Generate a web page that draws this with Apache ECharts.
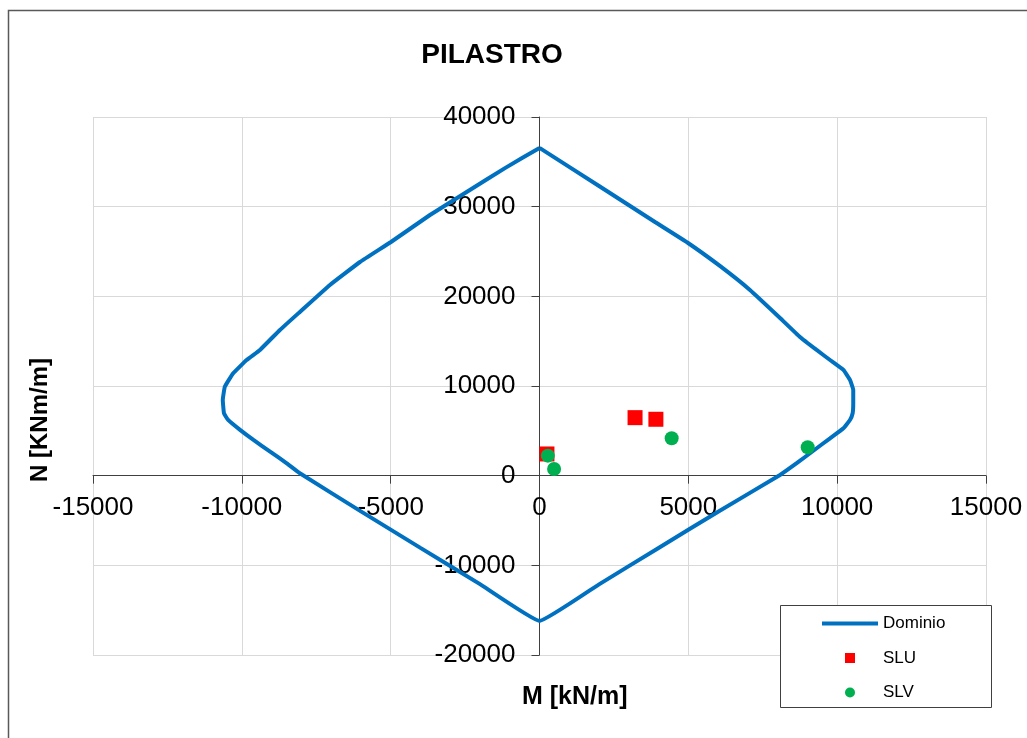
<!DOCTYPE html>
<html>
<head>
<meta charset="utf-8">
<script src="https://cdn.jsdelivr.net/npm/echarts@6/dist/echarts.min.js"></script>
<style>
html,body{margin:0;padding:0;background:#fff;}
#chart{width:1027px;height:738px;}
</style>
</head>
<body>
<div id="chart"></div>
<script>
// ---- data ----
const titleText = 'PILASTRO';
const xName = 'M [kN/m]';
const yName = 'N [KNm/m]';
const seriesNames = ['Dominio', 'SLU', 'SLV'];

// Interaction domain boundary (M, N)
const domainM = [0, 2000, 3880, 4990, 6060, 7070, 8080, 8750, 9310, 9760, 10210, 10430, 10540, 10540, 10520, 10430, 10210, 9760, 9200, 8640, 8080, 6000, 4000, 2000, 0,
  -2000, -4000, -6000, -8050, -8490, -9050, -9610, -10060, -10460, -10600, -10640, -10570, -10290, -9840, -9390, -8720, -8050, -7040, -6030, -4990, -3680, -2340, -1160, 0];
const domainN = [36550, 32300, 28290, 25950, 23390, 20710, 17590, 15470, 14020, 12900, 11790, 10670, 9560, 8070, 6960, 6210, 5290, 4170, 2780, 1390, 80, -4020, -8060, -12120, -16200,
  -12100, -8050, -3980, 270, 1380, 2680, 3980, 5100, 6210, 6960, 8440, 9930, 11420, 12900, 14020, 16250, 18260, 21270, 23830, 26060, 29070, 31860, 34300, 36550];

const sluM = [250, 3210, 3910];
const sluN = [2420, 6470, 6290];
const slvM = [280, 490, 4440, 9010];
const slvN = [2230, 750, 4170, 3170];

const xMin = -15000, xMax = 15000, xStep = 5000;
const yMin = -20000, yMax = 40000, yStep = 10000;

// ---- build ----
const zip = (a, b) => a.map((v, i) => [v, b[i]]);
const FONT = "'Liberation Sans', Arial, sans-serif";

const G = { left: 93, right: 41, top: 117, bottom: 83 };
const gW = 1027 - G.left - G.right, gH = 738 - G.top - G.bottom;
// place the axes through the origin (0,0)
const xAxisOffset = -(gH * (0 - yMin) / (yMax - yMin));
const yAxisOffset = -(gW * (0 - xMin) / (xMax - xMin));

const chart = echarts.init(document.getElementById('chart'));
chart.setOption({
  animation: false,
  backgroundColor: '#ffffff',
  title: {
    text: titleText,
    left: 487, top: 36, textAlign: 'center',
    textStyle: { fontFamily: FONT, fontSize: 28, fontWeight: 'bold', color: '#000' }
  },
  grid: Object.assign({ containLabel: false, outerBoundsMode: 'none' }, G),
  xAxis: {
    type: 'value', min: xMin, max: xMax, interval: xStep, offset: xAxisOffset,
    axisLine: { onZero: false, lineStyle: { color: '#404040', width: 1 } },
    axisTick: { show: true, inside: false, length: 8, lineStyle: { color: '#404040' } },
    axisLabel: { margin: 19, fontFamily: FONT, fontSize: 26, color: '#000', formatter: v => String(v) },
    splitLine: { show: true, lineStyle: { color: '#d9d9d9', width: 1 } }
  },
  yAxis: {
    type: 'value', min: yMin, max: yMax, interval: yStep, offset: yAxisOffset,
    axisLine: { onZero: false, lineStyle: { color: '#404040', width: 1 } },
    axisTick: { show: true, inside: false, length: 8, lineStyle: { color: '#404040' } },
    axisLabel: { margin: 24, padding: [4, 0, 0, 0], fontFamily: FONT, fontSize: 26, color: '#000', formatter: v => String(v) },
    splitLine: { show: true, lineStyle: { color: '#d9d9d9', width: 1 } }
  },
  legend: {
    orient: 'vertical', left: 822, top: 615, padding: 0, itemWidth: 56, itemHeight: 10, itemGap: 17.5,
    symbolKeepAspect: true,
    textStyle: { fontFamily: FONT, fontSize: 17, color: '#000' },
    data: [
      { name: seriesNames[0], icon: 'path://M0,0L56,0L56,4L0,4Z' },
      { name: seriesNames[1], icon: 'path://M0,0L10,0L10,10L0,10Z' },
      { name: seriesNames[2], icon: 'circle' }
    ],
    z: 10
  },
  graphic: [
    { type: 'rect', z: -10, silent: true, shape: { x: 8.5, y: 10.5, width: 1040, height: 760 },
      style: { fill: 'none', stroke: '#595959', lineWidth: 1.5 } },
    { type: 'rect', z: 5, silent: true, shape: { x: 780.5, y: 605.5, width: 211, height: 102 },
      style: { fill: '#ffffff', stroke: '#404040', lineWidth: 1 } },
    { type: 'text', z: 5, left: 522, top: 685, silent: true,
      style: { text: xName, fontFamily: FONT, fontSize: 25, fontWeight: 'bold', fill: '#000' } },
    { type: 'text', z: 5, x: 28, y: 420, rotation: Math.PI / 2, silent: true,
      style: { text: yName, fontFamily: FONT, fontSize: 24, fontWeight: 'bold', fill: '#000',
               align: 'center', verticalAlign: 'top' } }
  ],
  series: [
    {
      name: seriesNames[0], type: 'line', data: zip(domainM, domainN),
      symbol: 'none', smooth: 0.1, color: '#0070c0',
      lineStyle: { color: '#0070c0', width: 4 }, z: 2
    },
    {
      name: seriesNames[1], type: 'scatter', data: zip(sluM, sluN),
      symbol: 'rect', symbolSize: 15, itemStyle: { color: '#ff0000', opacity: 1 }, z: 3
    },
    {
      name: seriesNames[2], type: 'scatter', data: zip(slvM, slvN),
      symbol: 'circle', symbolSize: 14, itemStyle: { color: '#00b050', opacity: 1 }, z: 4
    }
  ]
});
</script>
</body>
</html>
